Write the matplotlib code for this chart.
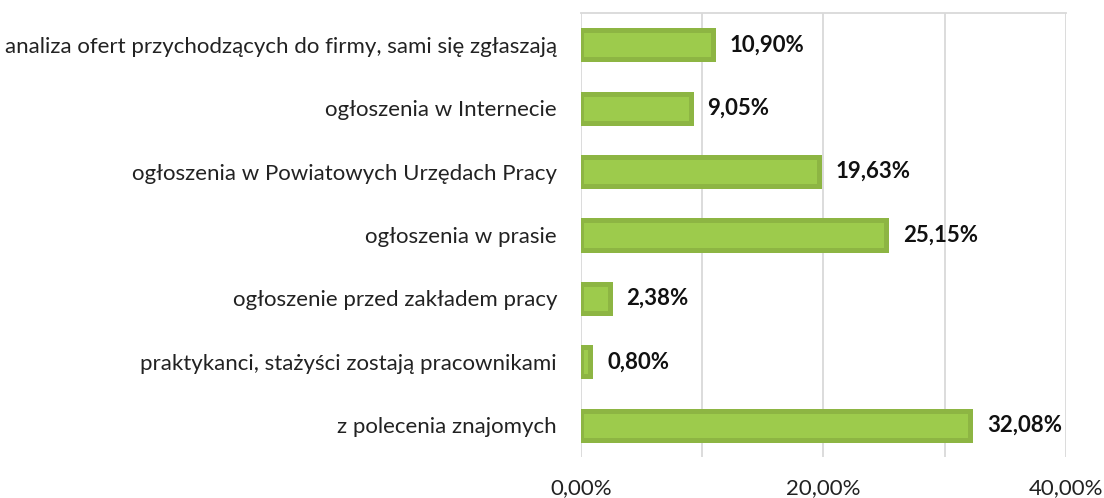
import matplotlib
matplotlib.use("Agg")
import matplotlib.pyplot as plt

categories = [
    "analiza ofert przychodzących do firmy, sami się zgłaszają",
    "ogłoszenia w Internecie",
    "ogłoszenia w Powiatowych Urzędach Pracy",
    "ogłoszenia w prasie",
    "ogłoszenie przed zakładem pracy",
    "praktykanci, stażyści zostają pracownikami",
    "z polecenia znajomych",
]
values = [10.90, 9.05, 19.63, 25.15, 2.38, 0.80, 32.08]
xticks = [0, 20, 40]
xtick_labels = ["0,00%", "20,00%", "40,00%"]

plt.rcParams['font.family'] = ['Lato', 'DejaVu Sans']

fig = plt.figure(figsize=(11.04, 4.98), dpi=100)
ax = fig.add_axes([0.526, 0.0823, 0.4396, 0.8916])

y = list(range(len(categories)))
ax.barh(y, values, height=0.46, color="#9DCB4C", edgecolor="#8DB543", linewidth=3.6, zorder=3)
ax.set_ylim(len(categories) - 0.5, -0.5)
ax.set_xlim(0, 40)
ax.set_yticks(y)
ax.set_yticklabels(categories, fontsize=16, color="#222222")
ax.tick_params(axis='y', length=0, pad=17)
ax.set_xticks(xticks)
ax.set_xticklabels(xtick_labels, fontsize=16, color="#222222")
ax.tick_params(axis='x', length=0, pad=15)
for gx in [0, 10, 20, 30, 40]:
    ax.axvline(gx, color="#D9D9D9", linewidth=1.3, zorder=1)
for name, s in ax.spines.items():
    if name == "top":
        s.set_color("#D9D9D9")
        s.set_linewidth(1.3)
    else:
        s.set_visible(False)

for yi, v in zip(y, values):
    ax.text(v + 1.4, yi, f"{v:.2f}%".replace(".", ","), va="center", ha="left",
            fontsize=16, fontweight="bold", color="#111111")

fig.savefig("out.png", dpi=100)
